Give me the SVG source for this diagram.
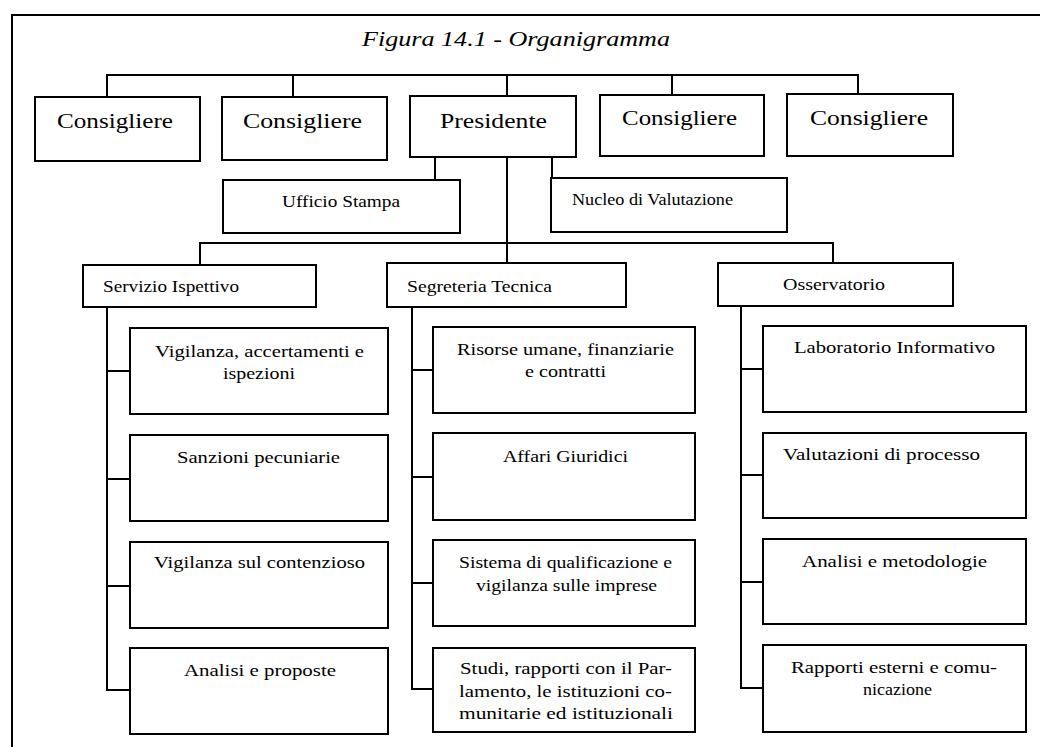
<svg xmlns="http://www.w3.org/2000/svg" width="1040" height="747" viewBox="0 0 1040 747">
<style>
.b{fill:#fff;stroke:#000;stroke-width:2}
.c{fill:none;stroke:#000;stroke-width:2}
text{font-family:"Liberation Serif","Times New Roman",serif;fill:#000}
.t1{font-size:22px}
.t2{font-size:16px}
.t3{font-size:17px}
.ti{font-size:20px;font-style:italic}
</style>
<rect width="1040" height="747" fill="#fff"/>
<g id="frame"><path class="c" d="M12,747 V14 M12,15 H1040"/></g>
<text class="ti" x="362" y="46" textLength="308" lengthAdjust="spacingAndGlyphs">Figura 14.1 - Organigramma</text>
<g id="connectors">
<path class="c" d="M107,97 V75 H858 V94 M293,75 V97 M507,75 V96 M672,75 V95"/>
<path class="c" d="M435,157 V180 M552,157 V178 M507,157 V263"/>
<path class="c" d="M200,265 V243 H833 V263"/>
<path class="c" d="M107,307 V690 H130 M107,371 H130 M107,479 H130 M107,586 H130"/>
<path class="c" d="M412,307 V689 H433 M412,370 H433 M412,477 H433 M412,583 H433"/>
<path class="c" d="M741,306 V688 H763 M741,369 H763 M741,475 H763 M741,582 H763"/>
</g>
<g id="cons1"><rect class="b" x="35" y="97" width="165" height="64"/><text class="t1" x="57" y="128" textLength="116" lengthAdjust="spacingAndGlyphs">Consigliere</text></g>
<g id="cons2"><rect class="b" x="222" y="97" width="165" height="63"/><text class="t1" x="243" y="128" textLength="119" lengthAdjust="spacingAndGlyphs">Consigliere</text></g>
<g id="presidente"><rect class="b" x="410" y="96" width="166" height="61"/><text class="t1" x="440" y="128" textLength="107" lengthAdjust="spacingAndGlyphs">Presidente</text></g>
<g id="cons4"><rect class="b" x="600" y="95" width="164" height="61"/><text class="t1" x="622" y="125" textLength="115" lengthAdjust="spacingAndGlyphs">Consigliere</text></g>
<g id="cons5"><rect class="b" x="787" y="94" width="166" height="62"/><text class="t1" x="810" y="125" textLength="118" lengthAdjust="spacingAndGlyphs">Consigliere</text></g>
<g id="ufficio"><rect class="b" x="223" y="180" width="237" height="53"/><text class="t2" x="282" y="207" textLength="118" lengthAdjust="spacingAndGlyphs">Ufficio Stampa</text></g>
<g id="nucleo"><rect class="b" x="551" y="178" width="236" height="54"/><text class="t2" x="572" y="205" textLength="161" lengthAdjust="spacingAndGlyphs">Nucleo di Valutazione</text></g>
<g id="servizio"><rect class="b" x="83" y="265" width="233" height="42"/><text class="t2" x="103" y="292" textLength="136" lengthAdjust="spacingAndGlyphs">Servizio Ispettivo</text></g>
<g id="segreteria"><rect class="b" x="387" y="263" width="239" height="44"/><text class="t2" x="407" y="292" textLength="145" lengthAdjust="spacingAndGlyphs">Segreteria Tecnica</text></g>
<g id="osservatorio"><rect class="b" x="718" y="263" width="235" height="43"/><text class="t2" x="783" y="290" textLength="102" lengthAdjust="spacingAndGlyphs">Osservatorio</text></g>
<g id="l1"><rect class="b" x="130" y="328" width="258" height="86"/><text class="t3" x="155" y="357" textLength="209" lengthAdjust="spacingAndGlyphs">Vigilanza, accertamenti e</text><text class="t3" x="223" y="379" textLength="72" lengthAdjust="spacingAndGlyphs">ispezioni</text></g>
<g id="l2"><rect class="b" x="130" y="435" width="258" height="86"/><text class="t3" x="177" y="463" textLength="163" lengthAdjust="spacingAndGlyphs">Sanzioni pecuniarie</text></g>
<g id="l3"><rect class="b" x="130" y="542" width="258" height="86"/><text class="t3" x="154" y="568" textLength="211" lengthAdjust="spacingAndGlyphs">Vigilanza sul contenzioso</text></g>
<g id="l4"><rect class="b" x="130" y="648" width="258" height="86"/><text class="t3" x="184" y="676" textLength="152" lengthAdjust="spacingAndGlyphs">Analisi e proposte</text></g>
<g id="m1"><rect class="b" x="433" y="327" width="262" height="86"/><text class="t3" x="457" y="355" textLength="217" lengthAdjust="spacingAndGlyphs">Risorse umane, finanziarie</text><text class="t3" x="525" y="377" textLength="81" lengthAdjust="spacingAndGlyphs">e contratti</text></g>
<g id="m2"><rect class="b" x="433" y="433" width="262" height="87"/><text class="t3" x="503" y="462" textLength="125" lengthAdjust="spacingAndGlyphs">Affari Giuridici</text></g>
<g id="m3"><rect class="b" x="433" y="540" width="262" height="86"/><text class="t3" x="459" y="568" textLength="213" lengthAdjust="spacingAndGlyphs">Sistema di qualificazione e</text><text class="t3" x="476" y="591" textLength="181" lengthAdjust="spacingAndGlyphs">vigilanza sulle imprese</text></g>
<g id="m4"><rect class="b" x="433" y="648" width="262" height="84"/><text class="t3" x="460" y="674" textLength="212" lengthAdjust="spacingAndGlyphs">Studi, rapporti con il Par-</text><text class="t3" x="459" y="697" textLength="213" lengthAdjust="spacingAndGlyphs">lamento, le istituzioni co-</text><text class="t3" x="459" y="719" textLength="214" lengthAdjust="spacingAndGlyphs">munitarie ed istituzionali</text></g>
<g id="r1"><rect class="b" x="763" y="326" width="263" height="86"/><text class="t3" x="794" y="353" textLength="201" lengthAdjust="spacingAndGlyphs">Laboratorio Informativo</text></g>
<g id="r2"><rect class="b" x="763" y="433" width="263" height="85"/><text class="t3" x="783" y="460" textLength="197" lengthAdjust="spacingAndGlyphs">Valutazioni di processo</text></g>
<g id="r3"><rect class="b" x="763" y="539" width="263" height="85"/><text class="t3" x="802" y="567" textLength="185" lengthAdjust="spacingAndGlyphs">Analisi e metodologie</text></g>
<g id="r4"><rect class="b" x="763" y="645" width="263" height="87"/><text class="t3" x="791" y="673" textLength="206" lengthAdjust="spacingAndGlyphs">Rapporti esterni e comu-</text><text class="t3" x="863" y="695" textLength="69" lengthAdjust="spacingAndGlyphs">nicazione</text></g>
</svg>
